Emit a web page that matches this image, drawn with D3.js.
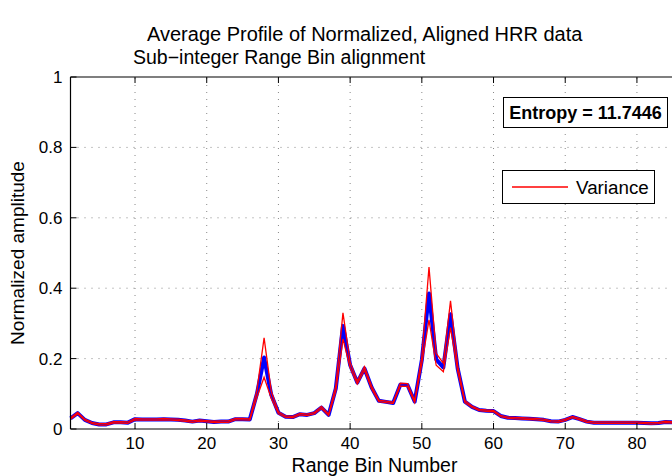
<!DOCTYPE html>
<html><head><meta charset="utf-8">
<script src="https://cdn.jsdelivr.net/npm/d3@7/dist/d3.min.js"></script>
<style>body{margin:0;background:#fff}svg{display:block}text{font-family:"Liberation Sans",Arial,sans-serif}</style>
</head><body><svg id="c" width="672" height="476"></svg>
<script>
const bins = d3.range(1, 87);
const meanProfile = [0.030,0.045,0.026,0.017,0.013,0.013,0.019,0.019,0.018,0.028,
0.027,0.027,0.027,0.028,0.027,0.026,0.024,0.021,0.024,0.022,
0.020,0.021,0.021,0.028,0.028,0.027,0.100,0.203,0.097,0.046,
0.035,0.034,0.042,0.040,0.045,0.061,0.040,0.115,0.293,0.182,
0.132,0.172,0.118,0.080,0.077,0.074,0.126,0.125,0.078,0.196,
0.385,0.198,0.175,0.326,0.172,0.078,0.063,0.054,0.052,0.051,
0.037,0.032,0.031,0.030,0.029,0.028,0.026,0.022,0.021,0.026,
0.034,0.028,0.021,0.018,0.018,0.018,0.018,0.018,0.018,0.018,
0.017,0.016,0.017,0.020,0.019,0.018];
const spread = [0.002,0.002,0.002,0.002,0.002,0.002,0.002,0.002,0.002,0.002,
0.002,0.002,0.002,0.002,0.002,0.002,0.002,0.002,0.002,0.002,
0.002,0.002,0.002,0.002,0.002,0.002,0.010,0.056,0.010,0.003,
0.002,0.002,0.002,0.002,0.002,0.003,0.002,0.008,0.037,0.008,
0.004,0.005,0.004,0.002,0.002,0.002,0.004,0.004,0.003,0.010,
0.075,0.017,0.012,0.038,0.008,0.003,0.002,0.002,0.002,0.002,
0.002,0.002,0.002,0.002,0.002,0.002,0.002,0.002,0.002,0.002,
0.002,0.002,0.002,0.002,0.002,0.002,0.002,0.002,0.002,0.002,
0.002,0.002,0.002,0.002,0.002,0.002];
const xTicks = [10,20,30,40,50,60,70,80];
const yTicks = [0,0.2,0.4,0.6,0.8,1];
const yTickLabels = ["0","0.2","0.4","0.6","0.8","1"];
const titleLine1 = "Average Profile of Normalized, Aligned HRR data";
const titleLine2 = "Sub\u2212integer Range Bin alignment";
const entropyLabel = "Entropy = 11.7446";
const legendLabel = "Variance";

const svg = d3.select("#c");
const L = 70.5, T = 77, B = 429;
const x = d3.scaleLinear().domain([1, 96]).range([L, L + 95*7.17]);
const y = d3.scaleLinear().domain([0, 1]).range([B, T]);
const R = x(96);

// grid
const g = svg.append("g");
g.selectAll(".gx").data(xTicks).enter().append("line")
 .attr("x1", d=>x(d)).attr("x2", d=>x(d)).attr("y1", B).attr("y2", T)
 .attr("stroke", "#888").attr("stroke-width", 1).attr("stroke-dasharray", "1,6");
g.selectAll(".gy").data(yTicks.slice(1,-1)).enter().append("line")
 .attr("x1", L).attr("x2", R).attr("y1", d=>y(d)).attr("y2", d=>y(d))
 .attr("stroke", "#888").attr("stroke-width", 1).attr("stroke-dasharray", "1,6");

// data lines
const line = d3.line().x((d,i)=>x(bins[i])).y(d=>y(d));
svg.append("path").datum(meanProfile).attr("d", line)
 .attr("fill","none").attr("stroke","#0000ff").attr("stroke-width",4).attr("stroke-linejoin","round");
const upper = meanProfile.map((m,i)=>m+spread[i]);
const lower = meanProfile.map((m,i)=>m-spread[i]);
[upper, lower].forEach(s=>{
  svg.append("path").datum(s).attr("d", line)
   .attr("fill","none").attr("stroke","#ff0000").attr("stroke-width",1.3);
});

// axes box
svg.append("line").attr("x1",L).attr("x2",R).attr("y1",B).attr("y2",B).attr("stroke","#000").attr("stroke-width",1.2);
svg.append("line").attr("x1",L).attr("x2",R).attr("y1",T).attr("y2",T).attr("stroke","#000").attr("stroke-width",1.2);
svg.append("line").attr("x1",L).attr("x2",L).attr("y1",T).attr("y2",B).attr("stroke","#000").attr("stroke-width",1.2);

// ticks
xTicks.forEach(t=>{
  svg.append("line").attr("x1",x(t)).attr("x2",x(t)).attr("y1",B).attr("y2",B-6).attr("stroke","#000");
  svg.append("line").attr("x1",x(t)).attr("x2",x(t)).attr("y1",T).attr("y2",T+6).attr("stroke","#000");
});
yTicks.forEach(t=>{
  svg.append("line").attr("x1",L).attr("x2",L+6).attr("y1",y(t)).attr("y2",y(t)).attr("stroke","#000");
});
svg.selectAll(".xl").data(xTicks).enter().append("text")
 .attr("x", d=>x(d)).attr("y", B+20).attr("text-anchor","middle").attr("font-size",17).text(d=>d);
svg.selectAll(".yl").data(yTicks).enter().append("text")
 .attr("x", L-8).attr("y", d=>y(d)+6).attr("text-anchor","end").attr("font-size",17).text((d,i)=>yTickLabels[i]);

// labels
svg.append("text").attr("x", 374.5).attr("y", 471.5).attr("text-anchor","middle").attr("font-size",19.5).text("Range Bin Number");
svg.append("text").attr("transform","translate(24,253) rotate(-90)").attr("text-anchor","middle").attr("font-size",19).text("Normalized amplitude");
svg.append("text").attr("x", 147).attr("y", 41).attr("font-size",20).text(titleLine1);
svg.append("text").attr("x", 133).attr("y", 64).attr("font-size",19.5).text(titleLine2);

// entropy box
svg.append("rect").attr("x",503.5).attr("y",97.5).attr("width",164).attr("height",30).attr("fill","#fff").attr("stroke","#000");
svg.append("text").attr("x",585.5).attr("y",119).attr("text-anchor","middle").attr("font-size",18).attr("font-weight","bold").text(entropyLabel);

// legend
svg.append("rect").attr("x",502.5).attr("y",170.5).attr("width",152).attr("height",33).attr("fill","#fff").attr("stroke","#000");
svg.append("line").attr("x1",512).attr("x2",568).attr("y1",187).attr("y2",187).attr("stroke","#ff0000").attr("stroke-width",1.3);
svg.append("text").attr("x",576).attr("y",194).attr("font-size",18.8).text(legendLabel);
</script></body></html>
